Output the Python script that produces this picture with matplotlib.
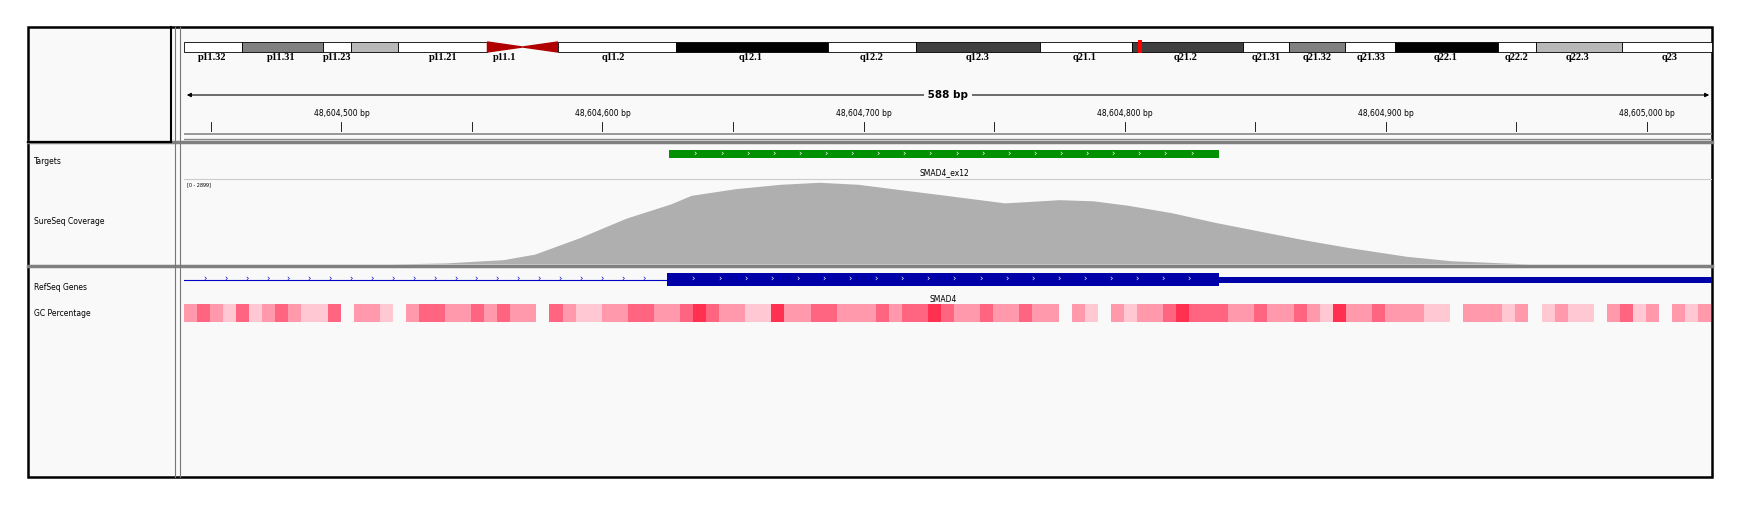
import numpy as np
import matplotlib
matplotlib.use("Agg")
import matplotlib.pyplot as plt
from matplotlib.patches import Rectangle, Polygon

# ---- data ----
view_start = 48604439.7
view_end = 48605025.0
tick_pos = np.arange(48604450, 48605001, 50)
tick_labels = [48604500, 48604600, 48604700, 48604800, 48604900, 48605000]

target_start, target_end = 48604625.6, 48604836.3
target_name = "SMAD4_ex12"
gene_name = "SMAD4"
gene_cds = (48604624.8, 48604836.3)

cov_pos = [48604519, 48604540, 48604562, 48604574, 48604591, 48604609, 48604626,
           48604634, 48604651, 48604668, 48604683, 48604698, 48604711, 48604728,
           48604741, 48604754, 48604762, 48604775, 48604788, 48604801, 48604818,
           48604835, 48604852, 48604869, 48604886, 48604908, 48604925, 48604955]
cov_val = [0, 38, 150, 340, 900, 1580, 2070, 2370, 2600, 2750, 2820, 2750, 2600,
           2410, 2260, 2110, 2150, 2220, 2180, 2030, 1770, 1430, 1130, 830, 565,
           265, 113, 0]
cov_max = 2899

# GC levels per 5 bp window (0 = no data)
gc_levels = ("2321312321130221023322323220321122332"
             "2343221142233222323343223223220210212"
             "2343332232232142232221102221201211023"
             "120212")
gc_colors = {"1": "#ffc8d3", "2": "#ff99ab", "3": "#ff6580", "4": "#ff3050"}

# ideogram (screen positions of the reference, in display px)
band_edges = [165, 217, 290, 315, 357, 437, 500, 606, 742, 821, 932, 1015,
              1114, 1156, 1206, 1251, 1343, 1377, 1454, 1535]
band_fill = ["white", "#808080", "white", "#b8b8b8", "white", "cen", "white",
             "black", "white", "#404040", "white", "#404040", "white",
             "#808080", "white", "black", "white", "#b8b8b8", "white"]
band_names = ["p11.32", "p11.31", "p11.23", "p11.21", "p11.1", "q11.2", "q12.1",
              "q12.2", "q12.3", "q21.1", "q21.2", "q21.31", "q21.32", "q21.33",
              "q22.1", "q22.2", "q22.3", "q23"]
band_label_x = [190, 252, 302, 397, 452, 550, 673, 781, 876, 972, 1063, 1135,
                1181, 1229, 1296, 1360, 1414, 1497]

S = 1749 / 1568
W, H = 1749, 512
X0, X1 = 184, 1712

fig = plt.figure(figsize=(W / 100, H / 100), dpi=100)
fig.patch.set_facecolor("white")
pa = fig.add_axes([0, 0, 1, 1])
pa.set_xlim(0, W)
pa.set_ylim(H, 0)
pa.axis("off")

# panels
pa.add_patch(Rectangle((28, 27), 1712 - 28, 477 - 27, fc="#f9f9f9", ec="black", lw=1.8, zorder=0))
for y in (142, 266):
    pa.plot([28, 1712], [y, y], color="#808080", lw=2.5)
pa.plot([171, 171], [27, 142], color="black", lw=1.5)
pa.plot([28, 171], [142, 142], color="black", lw=1.5)
pa.plot([175, 175], [27, 477], color="#777777", lw=0.8)
pa.plot([180, 180], [27, 477], color="#777777", lw=0.8)

# ideogram
for i, c in enumerate(band_fill):
    a, b = band_edges[i] * S, band_edges[i + 1] * S
    if c == "cen":
        m = (a + b) / 2
        pa.add_patch(Polygon([(a, 42), (m, 47), (a, 52)], fc="#b00000", ec="#b00000"))
        pa.add_patch(Polygon([(b, 42), (m, 47), (b, 52)], fc="#b00000", ec="#b00000"))
    else:
        pa.add_patch(Rectangle((a, 42), b - a, 10, fc=c, ec="black", lw=0.6))
pa.add_patch(Rectangle((1020 * S, 40), 4, 13, fc="red", ec="none", zorder=5))
for n, x in zip(band_names, band_label_x):
    pa.text(x * S, 57.5, n, ha="center", va="center", fontsize=7.5, fontweight="bold",
            family="Liberation Serif")

# left labels
for lab, y in [("Targets", 161), ("SureSeq Coverage", 222), ("RefSeq Genes", 287), ("GC Percentage", 313)]:
    pa.text(34, y, lab, fontsize=5.5, va="center")

# genome axes
ga = fig.add_axes([X0 / W, 0, (X1 - X0) / W, 1])
ga.set_xlim(view_start, view_end)
ga.set_ylim(H, 0)
ga.axis("off")

# ruler
ga.annotate("", xy=(view_start, 95), xytext=(view_end, 95),
            arrowprops=dict(arrowstyle="<|-|>", color="black", lw=0.8, mutation_scale=6))
mid = (view_start + view_end) / 2
ga.text(mid, 95, " %d bp " % round(view_end - view_start + 3), ha="center", va="center",
        fontsize=7.5, fontweight="bold", bbox=dict(fc="#f9f9f9", ec="none", pad=0))
for t in tick_pos:
    ga.plot([t, t], [122, 131], color="black", lw=0.6)
for t in tick_labels:
    ga.text(t, 114, "{:,} bp".format(t), ha="center", va="center", fontsize=5.5)
ga.plot([view_start, view_end], [134, 134], color="#888888", lw=1.2)
ga.plot([view_start, view_end], [139, 139], color="#888888", lw=1.0)

# targets
ga.add_patch(Rectangle((target_start, 150), target_end - target_start, 8, fc="#009000", ec="none"))
for x in np.arange(target_start + 10, target_end - 3, 10):
    ga.text(x, 154, "\u203a", color="white", fontsize=6, ha="center", va="center")
ga.text((target_start + target_end) / 2, 173, target_name, ha="center", va="center", fontsize=5.5)
ga.plot([view_start, view_end], [178.5, 178.5], color="#cccccc", lw=0.8)

# coverage: y in px, base 264, top 179
scale = (264 - 180) / cov_max
ga.fill_between(cov_pos, [264 - v * scale for v in cov_val], 264, color="#afafaf", lw=0)
ga.text(view_start + 1, 185, "[0 - %d]" % cov_max, fontsize=3.5, va="center")

# genes
ga.plot([view_start, gene_cds[0]], [279.5, 279.5], color="#0000c8", lw=0.8)
for x in np.arange(view_start + 8, gene_cds[0] - 3, 8):
    ga.text(x, 279.5, "\u203a", color="#0000c8", fontsize=6, ha="center", va="center")
ga.add_patch(Rectangle((gene_cds[0], 273), gene_cds[1] - gene_cds[0], 13, fc="#0000a8", ec="none"))
ga.add_patch(Rectangle((gene_cds[1], 277), view_end - gene_cds[1], 6, fc="#0000a8", ec="none"))
for x in np.arange(gene_cds[0] + 10, gene_cds[1] - 3, 10):
    ga.text(x, 279.5, "\u203a", color="white", fontsize=6, ha="center", va="center")
ga.text((gene_cds[0] + gene_cds[1]) / 2, 299, gene_name, ha="center", va="center", fontsize=5.5)

# GC percentage
for i, ch in enumerate(gc_levels):
    if ch == "0":
        continue
    x = view_start + i * 5
    ga.add_patch(Rectangle((x, 304), 5, 18, fc=gc_colors[ch], ec="none"))

fig.savefig("out.png", dpi=100, facecolor="white")
